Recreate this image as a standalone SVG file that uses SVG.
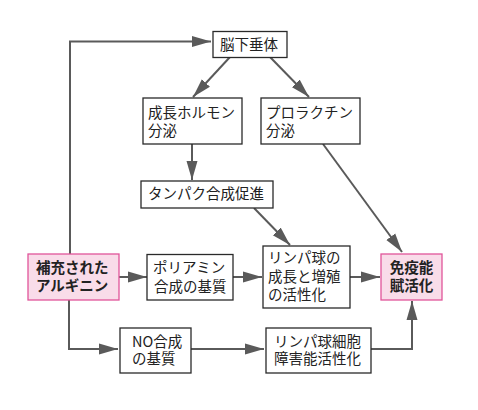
<svg xmlns="http://www.w3.org/2000/svg" width="478" height="410" viewBox="0 0 478 410">
<style>
.box{fill:#fff;stroke:#2a2a2a;stroke-width:1.3}
.pink{fill:#f9dce9;stroke:#e0559a;stroke-width:1.3}
text{font-family:"Noto Sans CJK JP","Noto Sans",sans-serif;font-size:14.5px;fill:#222}
.b{font-weight:bold}
.c{stroke:#5a5a5a;stroke-width:2;fill:none}
</style>
<defs>
<marker id="ah" markerWidth="19" markerHeight="12" refX="19" refY="6" orient="auto" markerUnits="userSpaceOnUse">
<path d="M0,0.5 L19,6 L0,11.5 Z" fill="#5a5a5a"/>
</marker>
</defs>
<rect width="478" height="410" fill="#fff"/>
<g id="connectors">
<path class="c" d="M70,254 V41.5 H211" marker-end="url(#ah)"/>
<path class="c" d="M230,57 L193,97" marker-end="url(#ah)"/>
<path class="c" d="M270,57 L309,97" marker-end="url(#ah)"/>
<path class="c" d="M192,144 V180" marker-end="url(#ah)"/>
<path class="c" d="M254,208 L290,245" marker-end="url(#ah)"/>
<path class="c" d="M323,144 L402,252" marker-end="url(#ah)"/>
<path class="c" d="M119,277 H147" marker-end="url(#ah)"/>
<path class="c" d="M233,277 H262" marker-end="url(#ah)"/>
<path class="c" d="M350,277 H380" marker-end="url(#ah)"/>
<path class="c" d="M69,300 V349 H118" marker-end="url(#ah)"/>
<path class="c" d="M191,349 H264" marker-end="url(#ah)"/>
<path class="c" d="M371,349 H412 V301" marker-end="url(#ah)"/>
</g>
<g id="n1"><rect class="box" x="213" y="31.5" width="74" height="26"/><text x="220" y="49.5">脳下垂体</text></g>
<g id="n2"><rect class="box" x="143" y="98" width="99" height="46"/><text x="148" y="118">成長ホルモン</text><text x="148" y="136">分泌</text></g>
<g id="n3"><rect class="box" x="261" y="98" width="99" height="46"/><text x="266" y="118">プロラクチン</text><text x="266" y="136">分泌</text></g>
<g id="n4"><rect class="box" x="141" y="181" width="132" height="27"/><text x="148" y="199">タンパク合成促進</text></g>
<g id="n5"><rect class="pink" x="28" y="254" width="91" height="46"/><text class="b" x="36" y="273">補充された</text><text class="b" x="36" y="291">アルギニン</text></g>
<g id="n6"><rect class="box" x="147" y="254.5" width="86" height="45.5"/><text x="153" y="273">ポリアミン</text><text x="154" y="292">合成の基質</text></g>
<g id="n7"><rect class="box" x="263" y="246" width="87" height="62"/><text x="268" y="263">リンパ球の</text><text x="268" y="282">成長と増殖</text><text x="268" y="300">の活性化</text></g>
<g id="n8"><rect class="pink" x="381" y="254" width="61" height="46"/><text class="b" x="411.5" y="273" text-anchor="middle">免疫能</text><text class="b" x="411.5" y="291" text-anchor="middle">賦活化</text></g>
<g id="n9"><rect class="box" x="120" y="328" width="71" height="45"/><text x="132" y="347">NO合成</text><text x="132" y="364">の基質</text></g>
<g id="n10"><rect class="box" x="266" y="328" width="105" height="45"/><text x="274" y="347">リンパ球細胞</text><text x="274" y="364">障害能活性化</text></g>
</svg>
